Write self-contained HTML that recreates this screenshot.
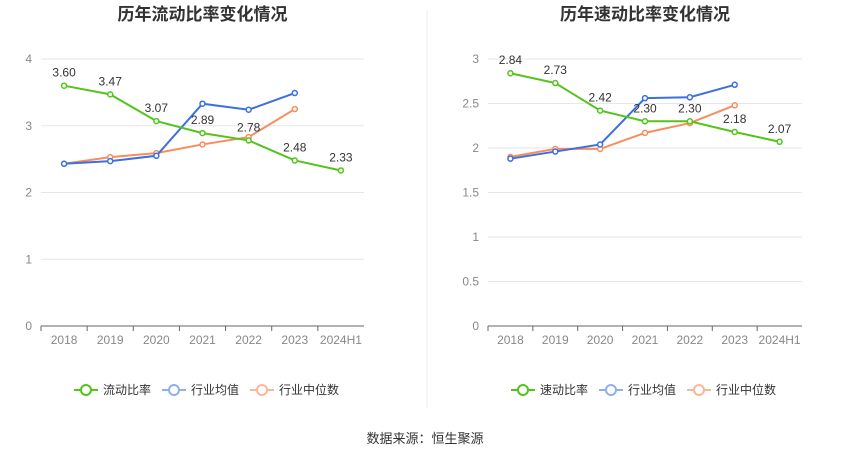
<!DOCTYPE html>
<html><head><meta charset="utf-8"><style>
body{margin:0;background:#fff;width:850px;height:459px;overflow:hidden;font-family:"Liberation Sans","Noto Sans CJK SC",sans-serif}
</style></head><body>
<svg id="s" width="850" height="459" xmlns="http://www.w3.org/2000/svg">
<line x1="427" y1="10" x2="427" y2="408" stroke="#eee"/>
<text x="425" y="443" text-anchor="middle" font-size="13" fill="#333">数据来源：恒生聚源</text>
</svg>
<script>
const years=["2018","2019","2020","2021","2022","2023","2024H1"];
const curRatio=[3.60,3.47,3.07,2.89,2.78,2.48,2.33];
const curIndAvg=[2.43,2.47,2.55,3.33,3.24,3.49,null];
const curIndMed=[2.43,2.53,2.59,2.72,2.83,3.25,null];
const quickRatio=[2.84,2.73,2.42,2.30,2.30,2.18,2.07];
const quickIndAvg=[1.88,1.96,2.04,2.56,2.57,2.71,null];
const quickIndMed=[1.90,1.99,1.99,2.17,2.28,2.48,null];
const leftTicks=["0","1","2","3","4"];
const rightTicks=["0","0.5","1","1.5","2","2.5","3"];
const NS="http://www.w3.org/2000/svg",svg=document.getElementById('s');
function el(t,a,txt){const e=document.createElementNS(NS,t);for(const k in a)e.setAttribute(k,a[k]);if(txt!=null)e.textContent=txt;svg.appendChild(e);return e;}
function chart(o){
 const x0=o.x0,x1=o.x1,yb=326,yt=59;
 const step=(x1-x0)/years.length;
 const xs=i=>x0+step*(i+0.5);
 const ys=v=>yb-(v/o.max)*(yb-yt);
 const t=el('text',{x:(x0+x1)/2,y:20,'text-anchor':'middle','font-size':'17','font-weight':'bold',fill:'#333'},o.title);
 
 o.ticks.forEach(tk=>{const v=parseFloat(tk);
  const g=el('line',{x1:x0,x2:x1,y1:ys(v),y2:ys(v),stroke:v===0?'#666':'#e6e6ee'});
  
  const l=el('text',{x:x0-9,y:ys(v)+4,'text-anchor':'end','font-size':'12',fill:'#888'},tk);
  });
 years.forEach((y,i)=>{
  const l=el('text',{x:xs(i),y:yb+18,'text-anchor':'middle','font-size':'12',fill:'#888'},y);
  
  const tk=el('line',{x1:x0+step*i,x2:x0+step*i,y1:yb,y2:yb+5,stroke:'#666'});
  });
 const series=[[o.med,'#f98c5c','industry-median'],[o.avg,'#3a70e0','industry-average'],[o.main,'#52c41a','main-ratio']];
 series.forEach(([d,c,n])=>{
  let p='';d.forEach((v,i)=>{if(v!=null)p+=(p?'L':'M')+xs(i)+','+ys(v);});
  const ln=el('path',{d:p,fill:'none',stroke:c,'stroke-width':2});
  
  d.forEach((v,i)=>{if(v==null)return;
   const pt=el('circle',{cx:xs(i),cy:ys(v),r:2.5,fill:'#fff',stroke:c,'stroke-width':1.5});
   
   if(n==='main-ratio'){const lb=el('text',{x:xs(i),y:ys(v)-9,'text-anchor':'middle','font-size':'12',fill:'#333'},v.toFixed(2));
    }
  });
 });
 const leg=[[o.mainName,'#52c41a'],['行业均值','#8fb0ef'],['行业中位数','#fcb79a']];
 let lx=o.legX;
 leg.forEach(([nm,c],k)=>{
  const g=el('g',{});
  const a=el('line',{x1:lx,x2:lx+24,y1:390,y2:390,stroke:c,'stroke-width':2});g.appendChild(a);
  const ci=el('circle',{cx:lx+12,cy:390,r:5,fill:'#fff',stroke:c,'stroke-width':2});g.appendChild(ci);
  const tx=el('text',{x:lx+29,y:394,'font-size':'12',fill:'#333'},nm);g.appendChild(tx);
  lx+=29+nm.length*12+11;
 });
}
chart({id:'current-ratio',x0:41,x1:364,max:4,ticks:leftTicks,title:'历年流动比率变化情况',main:curRatio,avg:curIndAvg,med:curIndMed,mainName:'流动比率',legX:74});
chart({id:'quick-ratio',x0:488,x1:802,max:3,ticks:rightTicks,title:'历年速动比率变化情况',main:quickRatio,avg:quickIndAvg,med:quickIndMed,mainName:'速动比率',legX:511});
</script>
</body></html>
